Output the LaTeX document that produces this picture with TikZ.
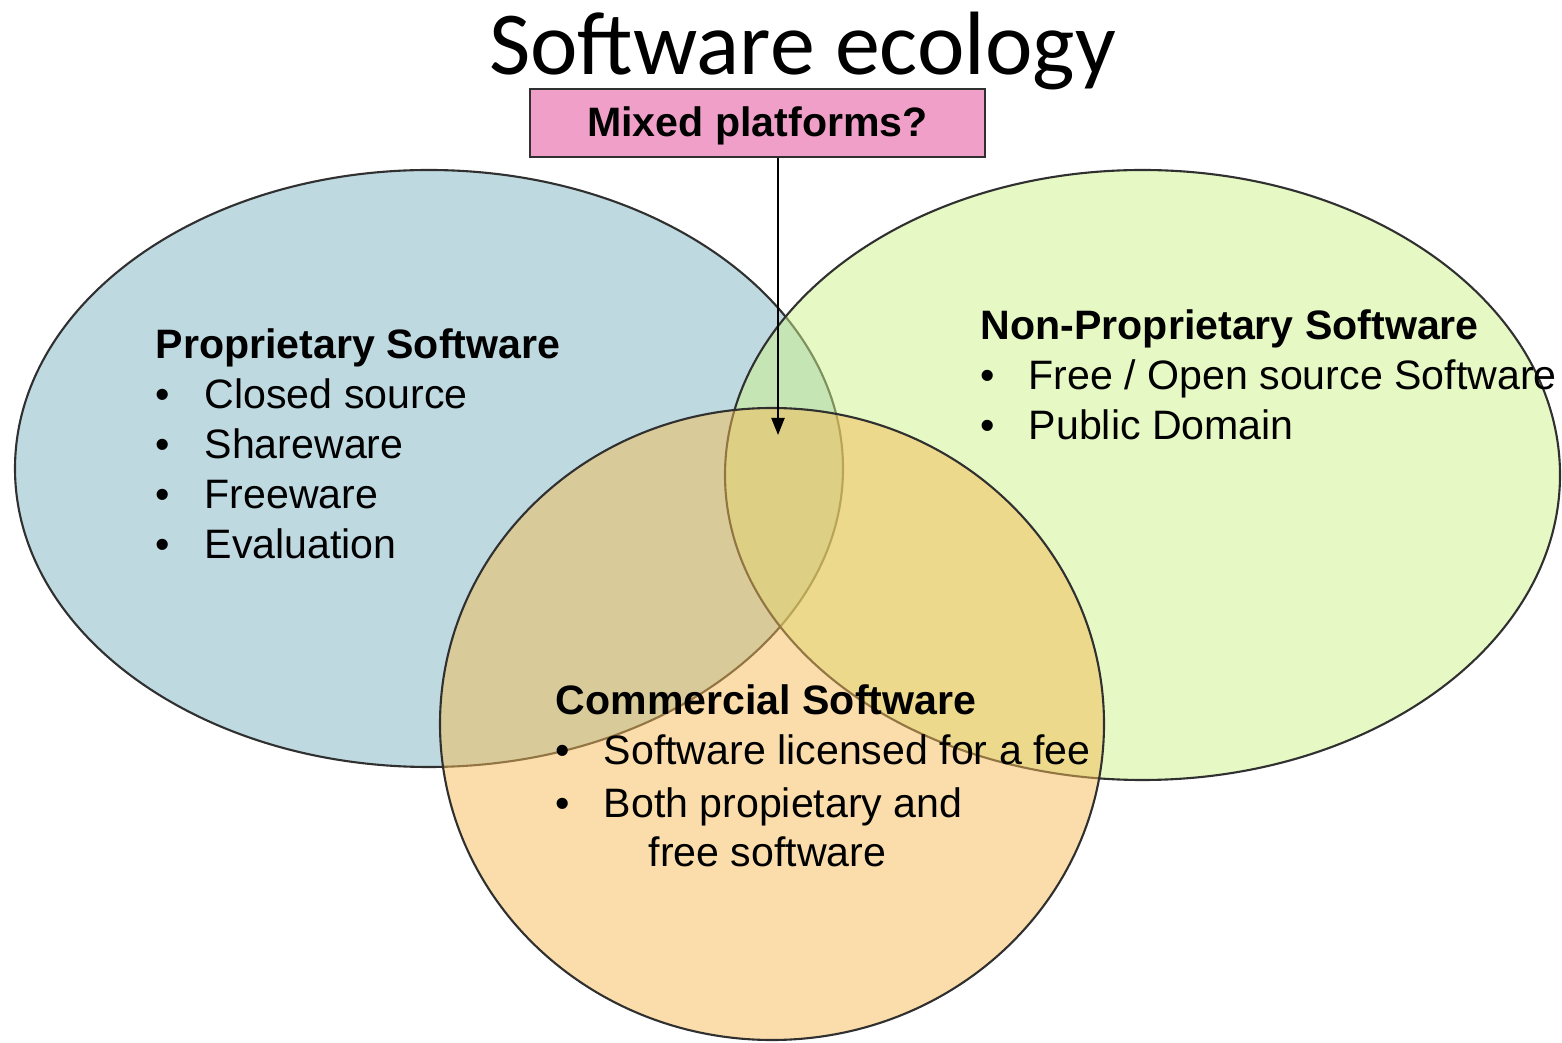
\documentclass[tikz,border=0pt]{standalone}
\usepackage{fontspec}
\setmainfont{Liberation Sans}
\newfontfamily\ecotitlefont{Carlito}
\usepackage{tikz}
\usetikzlibrary{positioning,calc,shapes,arrows.meta}
\definecolor{EcoBlue}{HTML}{7FB3C1}
\definecolor{EcoGreen}{HTML}{CDF189}
\definecolor{EcoOrange}{HTML}{F5BB55}
\definecolor{EcoPink}{HTML}{F0A0C8}
\definecolor{EcoLine}{HTML}{303030}
\tikzset{
  setarea/.style={draw=EcoLine, line width=0.6pt, fill=#1, fill opacity=0.5},
  bodytext/.style={anchor=base west, inner sep=0pt, font=\fontsize{11.7}{14}\selectfont},
  headtext/.style={bodytext, font=\fontsize{11.7}{14}\selectfont\bfseries},
}

\begin{document}
\begin{tikzpicture}
  \useasboundingbox (0,0) rectangle (15.62,10.42);
  % the three sets
  \draw[setarea=EcoBlue] (4.29,5.735) ellipse [x radius=4.14, y radius=2.985];
  \draw[setarea=EcoGreen] (11.425,5.67) ellipse [x radius=4.175, y radius=3.05];
  \draw[setarea=EcoOrange] (7.72,3.18) ellipse [x radius=3.32, y radius=3.16];

  \node[anchor=base, inner sep=0pt, font=\ecotitlefont\fontsize{25.6}{30}\selectfont] (title) at (8.025,9.67) {Software ecology};
  \node[draw=EcoLine, line width=0.8pt, fill=EcoPink, minimum width=4.55cm, minimum height=0.68cm,
        text height=0.33cm, text depth=0.06cm,
        font=\fontsize{11.7}{14}\selectfont\bfseries] (mixbox) at (7.575,9.19) {Mixed platforms?};
  \coordinate (mixtip) at (7.78,6.07);
  \draw[line width=0.6pt, -{Triangle[length=0.17cm, width=0.13cm]}] (mixbox.south -| mixtip) -- (mixtip);

  \node[headtext] (prophead) at (1.55,6.83) {Proprietary Software};
  \foreach \entry [count=\i] in {Closed source, Shareware, Freeware, Evaluation} {
    \node[bodytext] (propdot\i) at (1.55,{6.83-0.5*\i}) {\textbullet};
    \node[bodytext] (propitem\i) at (2.04,{6.83-0.5*\i}) {\entry};
  }

  \node[headtext] (nonhead) at (9.80,7.02) {Non-Proprietary Software};
  \foreach \entry [count=\i] in {Free / Open source Software, Public Domain} {
    \node[bodytext] (nondot\i) at (9.80,{7.02-0.5*\i}) {\textbullet};
    \node[bodytext] (nonitem\i) at (10.28,{7.02-0.5*\i}) {\entry};
  }

  \node[headtext] (comhead) at (5.55,3.27) {Commercial Software};
  \node[bodytext] (comdot1) at (5.55,2.77) {\textbullet};
  \node[bodytext] (comitem1) at (6.03,2.77) {Software licensed for a fee};
  \node[bodytext] (comdot2) at (5.55,2.25) {\textbullet};
  \node[bodytext] (comitem2) at (6.03,2.25) {Both propietary and};
  \node[bodytext] (comitem3) at (6.48,1.76) {free software};
\end{tikzpicture}
\end{document}
